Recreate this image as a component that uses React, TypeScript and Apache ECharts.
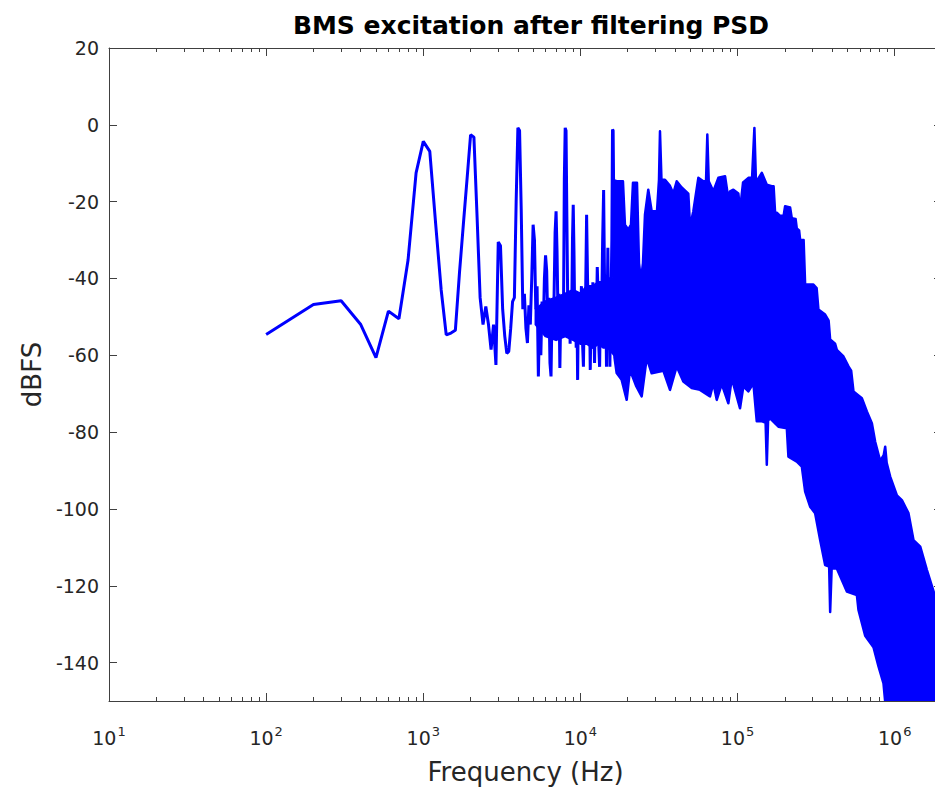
import React, { useEffect, useRef } from "react";
import * as echarts from "echarts";

// ---------- data ----------
const titleText = "BMS excitation after filtering PSD";
const xName = "Frequency (Hz)";
const yName = "dBFS";

// resolved part of the trace: frequency (Hz) and level (dBFS)
const lineFreq = [
  100, 200, 300, 400, 500, 600, 700, 800, 900, 1000, 1100, 1200, 1300, 1400, 1500, 1600, 1700, 1800, 1900, 2000,
  2100, 2200, 2300, 2400, 2500, 2600, 2700, 2800, 2900, 3000, 3100, 3200, 3300, 3400, 3500, 3600, 3700, 3800, 3900,
  4000, 4100, 4200, 4300, 4400, 4500, 4600, 4700, 4800, 4900, 5000, 5100, 5200, 5300, 5400, 5500, 5600, 5700, 5800,
  5900, 6000, 6100, 6200, 6300, 6400, 6500, 6600, 6700, 6800, 6900, 7000, 7100, 7200, 7300, 7400, 7500, 7600, 7700,
  7800, 7900, 8000, 8100, 8200, 8300, 8400, 8500, 8600, 8700, 8800, 8900, 9000, 9100, 9200, 9300, 9400, 9500, 9600,
  9700, 9800, 9900,
  10000, 10150, 10300, 10450, 10600, 10750, 10950, 11100, 11250, 11400, 11550, 11700, 11850, 12000, 12150, 12300,
  12450, 12600, 12800, 12950, 13100, 13250, 13400, 13550, 13700, 13850, 14050, 14200, 14350, 14500, 14650, 14800,
  14950, 15100, 15250, 15400, 15550, 15700, 15850, 16000, 16150, 16300, 16450, 16600,
];
const lineDb = [
  -54.6, -46.8, -45.8, -52.0, -60.6, -48.5, -50.5, -35.2, -12.5, -4.3, -6.9, -26, -43, -54.7, -54.2, -53.5, -38.5, -25.8, -14, -2.6,
  -3.2, -24, -45, -52, -47.3, -52, -58.5, -52, -62.5, -30.5, -31.5, -48, -55, -59.5, -59, -53, -46, -45, -20,
  -0.8, -1.5, -22, -48, -44, -53, -56.8, -47, -52, -40, -26, -30, -48, -42, -65.5, -50, -60, -46, -53,
  -40, -34, -38, -52, -45, -62, -65.5, -48, -54, -44, -28, -22.5, -33, -50, -44, -63.3, -49, -55, -45,
  -50, -14, -0.8, -1.5, -24, -46, -53, -45, -57, -44, -50, -30, -20.8, -33, -50, -44, -58, -48, -66.4,
  -47, -55, -44,
  -52, -42, -56, -63, -46, -50, -23.4, -40, -52, -45, -63.8, -48, -55, -41, -50, -62,
  -47, -55, -37, -44, -58, -63, -48, -53, -44, -30, -17, -36, -52, -45, -63, -47,
  -32, -50, -44, -63, -48, -42, -30, -1.2, -1.5, -20, -40, -14.5,
];

// solid core of the trace between 5 kHz and 16 kHz (upper / lower edge)
const coreFreq = [5200, 6000, 7000, 8000, 9000, 10000, 11000, 12000, 13000, 14000, 15000, 16470];
const coreUpperDb = [-48, -46, -45, -44, -43, -44, -42, -42, -41, -41, -40, -40];
const coreLowerDb = [-52, -55, -56, -55, -56, -57, -57, -58, -57, -58, -58, -60];

// dense part of the trace: upper and lower envelope of the filled band
const upperFreq = [
  16470, 17010, 18650, 19200, 20160, 20980, 21600, 22910, 23590, 24290, 25010, 25750, 27030, 28410, 30710, 31620,
  32090, 32800, 34520, 37160, 39000, 40990, 44120, 48600, 49840, 52310, 56280, 60550, 63000, 64210, 65550, 70150,
  75460, 83270, 87390, 89600, 94030, 101200, 103700, 108400, 117200, 123700, 128000, 131000, 142600, 153500, 165100,
  169600, 173400, 177700, 186500, 196300, 200700, 216000, 221400, 234100, 238300, 246500, 250100, 263300, 269200,
  304000, 318600, 327100, 360800, 379800, 388400, 417800, 428300, 472000, 507900, 528400, 546600, 618100, 665100,
  715800, 751200, 808100, 851100, 870000, 889200, 936100, 1033000, 1111000, 1224000, 1317000, 1454000, 1604000,
  1785000, 2000000,
];
const upperDb = [
  -14.5, -14.7, -14.7, -26, -27.3, -26, -15.1, -15.1, -36, -40.3, -36, -23.4, -16.9, -22.5, -22.5, -14.3,
  -1.7, -14.3, -14.3, -15.9, -17.9, -14.7, -16.3, -17.9, -26.4, -22.5, -13.8, -14.7, -14.7, -2.5, -14.7, -17.3,
  -13.8, -13.4, -19.2, -17.3, -16.9, -17.9, -22.1, -15, -13.8, -13.8, -0.8, -15, -12.5, -15.6, -16,
  -16, -22.9, -22.9, -23.7, -23.7, -21.2, -21.5, -24.3, -24.5, -27, -27.5, -29.9, -30, -41.6,
  -41.6, -42.5, -48.1, -49.4, -51, -55.9, -57, -58.6, -60.3, -62.9, -64, -69.4, -71.2, -74.6,
  -77.7, -82.5, -87.5, -86, -83.8, -88, -91.6, -96.5, -97.7, -101.1, -108.1, -109.8, -115.9,
  -122, -124,
];
const lowerFreq = [
  16470, 17010, 18300, 19700, 20670, 22570, 24540, 26410, 28410, 33690, 37160, 40990, 45170, 51090, 57690, 66780,
  70150, 73710, 79330, 87390, 91860, 103700, 108900, 117200, 126100, 132500, 142600, 150800, 153500, 156400, 161100,
  182000, 205800, 210700, 238300, 256400, 269200, 289600, 311600, 335400, 360800, 382700, 388400, 397000, 428300,
  496100, 574300, 588000, 648800, 732800, 788600, 848500, 891800, 929400, 943000, 964000, 2000000,
];
const lowerDb = [
  -60.5, -64.6, -66.4, -71.6, -63.8, -67.9, -70.7, -60.7, -64.7, -64, -69, -62.9, -66.8, -68.5, -69, -70.7,
  -67.3, -71.6, -67.5, -72.5, -66, -73.8, -68.1, -69.4, -67.3, -77.2, -77.2, -77.5, -88.5, -77, -76.4,
  -78.6, -79, -86.4, -87.7, -89, -95.5, -99.4, -101.1, -108.1, -114.6, -115, -126.8, -115.5, -115.5,
  -121.5, -122.4, -126.3, -133, -136, -141, -145.4, -155, -155, -141.5, -155, -155,
];

const xMajorTicks = [10, 100, 1000, 10000, 100000, 1000000];
const yTicks = [-140, -120, -100, -80, -60, -40, -20, 0, 20];

// minor log ticks 2..9 x each decade
const xMinorTicks: number[] = [];
for (const d of xMajorTicks) {
  for (let k = 2; k <= 9; k++) {
    if (k * d < 2000000) xMinorTicks.push(k * d);
  }
}

const FONT = '"DejaVu Sans", "Liberation Sans", sans-serif';
const AXIS_COLOR = "#404040";
const TEXT_COLOR = "#262626";
const BLUE = "#0000ff";

function bandSeries(fUp: number[], dbUp: number[], fLo: number[], dbLo: number[]) {
  return {
    type: "custom",
    coordinateSystem: "cartesian2d",
    xAxisIndex: 0,
    yAxisIndex: 0,
    silent: true,
    z: 3,
    data: [[fUp[0], dbUp[0]]],
    renderItem: (params: any, api: any) => {
      const pts: number[][] = [];
      for (let i = 0; i < fUp.length; i++) pts.push(api.coord([fUp[i], dbUp[i]]));
      for (let i = fLo.length - 1; i >= 0; i--) pts.push(api.coord([fLo[i], dbLo[i]]));
      const cs = params.coordSys;
      return {
        type: "polygon",
        shape: { points: pts },
        style: { fill: BLUE, stroke: BLUE, lineWidth: 2.5, lineJoin: "round" },
        clipPath: { type: "rect", shape: { x: cs.x, y: cs.y, width: cs.width, height: cs.height } },
      };
    },
  };
}

export default function App() {
  const ref = useRef<HTMLDivElement>(null);

  useEffect(() => {
    if (!ref.current) return;
    const chart = echarts.init(ref.current, null, { renderer: "svg" });

    const baseX = {
      type: "log" as const,
      logBase: 10,
      min: 10,
      max: 2000000,
      splitLine: { show: false },
      minorTick: { show: false },
      minorSplitLine: { show: false },
    };

    const xAxes = [
      {
        ...baseX,
        position: "bottom",
        axisLine: { show: true, onZero: false, lineStyle: { color: AXIS_COLOR, width: 1 } },
        axisTick: { show: true, inside: true, length: 8, customValues: xMajorTicks, lineStyle: { color: AXIS_COLOR } },
        axisLabel: {
          show: true,
          customValues: xMajorTicks,
          margin: 24,
          formatter: (v: number) => "{b|10}{s|" + Math.round(Math.log10(v)) + "}",
          rich: {
            b: { fontSize: 19, fontFamily: FONT, color: TEXT_COLOR },
            s: { fontSize: 13, fontFamily: FONT, color: TEXT_COLOR, padding: [0, 0, 12, 1] },
          },
        },
        name: xName,
        nameLocation: "middle",
        nameGap: 58,
        nameTextStyle: { fontSize: 26, fontFamily: FONT, color: TEXT_COLOR },
      },
      {
        ...baseX,
        position: "bottom",
        axisLine: { show: false, onZero: false },
        axisTick: { show: true, inside: true, length: 4, customValues: xMinorTicks, lineStyle: { color: AXIS_COLOR } },
        axisLabel: { show: false },
      },
      {
        ...baseX,
        position: "top",
        axisLine: { show: true, onZero: false, lineStyle: { color: AXIS_COLOR, width: 1 } },
        axisTick: { show: true, inside: true, length: 8, customValues: xMajorTicks, lineStyle: { color: AXIS_COLOR } },
        axisLabel: { show: false },
      },
      {
        ...baseX,
        position: "top",
        axisLine: { show: false, onZero: false },
        axisTick: { show: true, inside: true, length: 4, customValues: xMinorTicks, lineStyle: { color: AXIS_COLOR } },
        axisLabel: { show: false },
      },
    ];

    const yAxes = [
      {
        type: "value",
        min: -150,
        max: 20,
        position: "left",
        splitLine: { show: false },
        axisLine: { show: true, onZero: false, lineStyle: { color: AXIS_COLOR, width: 1 } },
        axisTick: { show: true, inside: true, length: 8, customValues: yTicks, lineStyle: { color: AXIS_COLOR } },
        axisLabel: {
          show: true,
          customValues: yTicks,
          margin: 10,
          fontSize: 19,
          fontFamily: FONT,
          color: TEXT_COLOR,
        },
        name: yName,
        nameLocation: "middle",
        nameGap: 45,
        nameRotate: 90,
        nameTextStyle: { fontSize: 26, fontFamily: FONT, color: TEXT_COLOR },
      },
      {
        type: "value",
        min: -150,
        max: 20,
        position: "right",
        splitLine: { show: false },
        axisLine: { show: true, onZero: false, lineStyle: { color: AXIS_COLOR, width: 1 } },
        axisTick: { show: true, inside: true, length: 8, customValues: yTicks, lineStyle: { color: AXIS_COLOR } },
        axisLabel: { show: false },
      },
    ];

    chart.setOption({
      animation: false,
      backgroundColor: "#ffffff",
      title: {
        text: titleText,
        left: 526,
        top: 8,
        textAlign: "center",
        textStyle: { fontSize: 25, fontWeight: "bold", fontFamily: FONT, color: "#000000" },
      },
      grid: { left: 109, right: 3, top: 48, bottom: 96, containLabel: false },
      xAxis: xAxes,
      yAxis: yAxes,
      series: [
        {
          type: "line",
          xAxisIndex: 0,
          yAxisIndex: 0,
          data: lineFreq.map((f, i) => [f, lineDb[i]]),
          showSymbol: false,
          symbol: "none",
          clip: true,
          lineStyle: { color: BLUE, width: 3 },
          z: 3,
        },
        bandSeries(coreFreq, coreUpperDb, coreFreq, coreLowerDb),
        bandSeries(upperFreq, upperDb, lowerFreq, lowerDb),
      ],
    } as any);

    return () => chart.dispose();
  }, []);

  return (
    <div
      style={{
        position: "fixed",
        left: 0,
        top: 0,
        width: 935,
        height: 797,
        overflow: "hidden",
        background: "#ffffff",
      }}
    >
      <div ref={ref} style={{ width: 945, height: 797 }} />
    </div>
  );
}
